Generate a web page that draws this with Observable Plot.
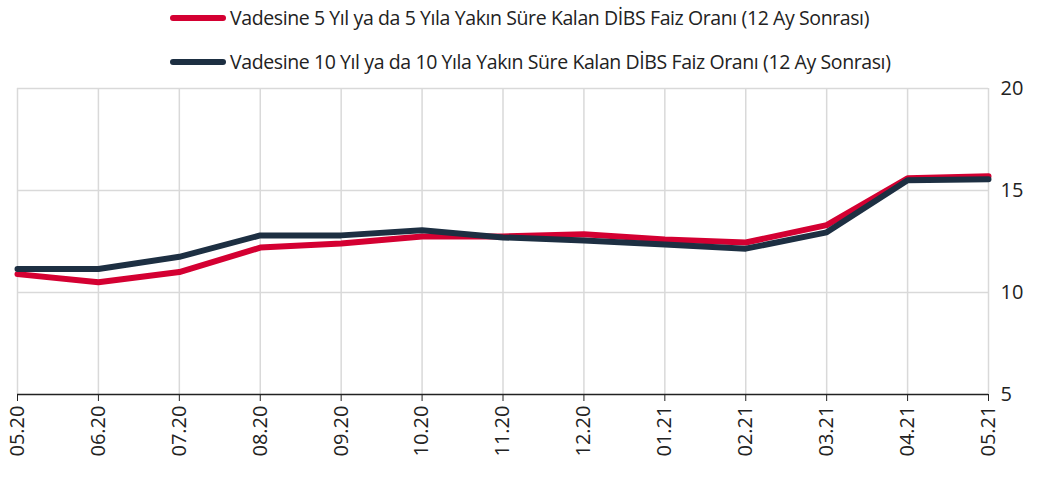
<!DOCTYPE html>
<html><head><meta charset="utf-8">
<script src="https://cdn.jsdelivr.net/npm/d3@7"></script>
<script src="https://cdn.jsdelivr.net/npm/@observablehq/plot@0.6"></script>
<style>
body{margin:0;background:#fff;font-family:"Open Sans",sans-serif;}
#legend{position:relative;height:60px;width:1046px;}
.item{position:absolute;left:170px;display:flex;align-items:center;font-size:19.5px;color:#222;letter-spacing:-0.4px;white-space:nowrap;}
.sw{width:56px;height:6px;border-radius:3px;margin-right:4px;}
svg{overflow:visible;}
</style></head>
<body>
<div id="legend"></div>
<div id="chart"></div>
<script>
const months = ["05.20","06.20","07.20","08.20","09.20","10.20","11.20","12.20","01.21","02.21","03.21","04.21","05.21"];
const y5 = [10.9, 10.5, 11.0, 12.2, 12.4, 12.75, 12.75, 12.85, 12.6, 12.45, 13.3, 15.6, 15.7];
const y10 = [11.15, 11.15, 11.75, 12.8, 12.8, 13.05, 12.7, 12.55, 12.35, 12.15, 12.95, 15.5, 15.55];
const seriesNames = ["Vadesine 5 Yıl ya da 5 Yıla Yakın Süre Kalan DİBS Faiz Oranı (12 Ay Sonrası)",
                     "Vadesine 10 Yıl ya da 10 Yıla Yakın Süre Kalan DİBS Faiz Oranı (12 Ay Sonrası)"];
const colors = ["#d40032", "#1d2f42"];
const yTicks = [5, 10, 15, 20];

const leg = document.getElementById("legend");
[18, 62].forEach((top, i) => {
  const d = document.createElement("div");
  d.className = "item";
  d.style.top = (top - 14) + "px";
  d.innerHTML = `<div class="sw" style="background:${colors[i]}"></div><span>${seriesNames[i]}</span>`;
  leg.appendChild(d);
});

const data = [];
months.forEach((m, i) => {
  data.push({m, v: y5[i], s: seriesNames[0]});
  data.push({m, v: y10[i], s: seriesNames[1]});
});

const chart = Plot.plot({
  width: 1046, height: 425,
  marginTop: 28, marginBottom: 91, marginLeft: 17, marginRight: 58,
  style: {fontFamily: "Open Sans, sans-serif", fontSize: "20px", color: "#222", overflow: "visible"},
  x: {type: "point", domain: months, padding: 0, round: false, label: null},
  y: {domain: [5, 20], label: null},
  color: {domain: seriesNames, range: colors},
  marks: [
    Plot.gridX(months, {stroke: "#d9d9d9", strokeOpacity: 1, strokeWidth: 1.5}),
    Plot.gridY([10, 15, 20], {stroke: "#d9d9d9", strokeOpacity: 1, strokeWidth: 1.5}),
    Plot.axisY(yTicks, {anchor: "right", tickSize: 0, tickPadding: 12, fontSize: 20, label: null}),
    Plot.axisX(months, {tickSize: 7, tickRotate: -90, tickPadding: 4, fontSize: 20, stroke: "#222", label: null}),
    Plot.ruleY([5], {stroke: "#222", strokeWidth: 1.5}),
    Plot.line(data, {x: "m", y: "v", stroke: "s", strokeWidth: 6, curve: "linear"})
  ]
});
document.getElementById("chart").appendChild(chart);
</script>
</body></html>
